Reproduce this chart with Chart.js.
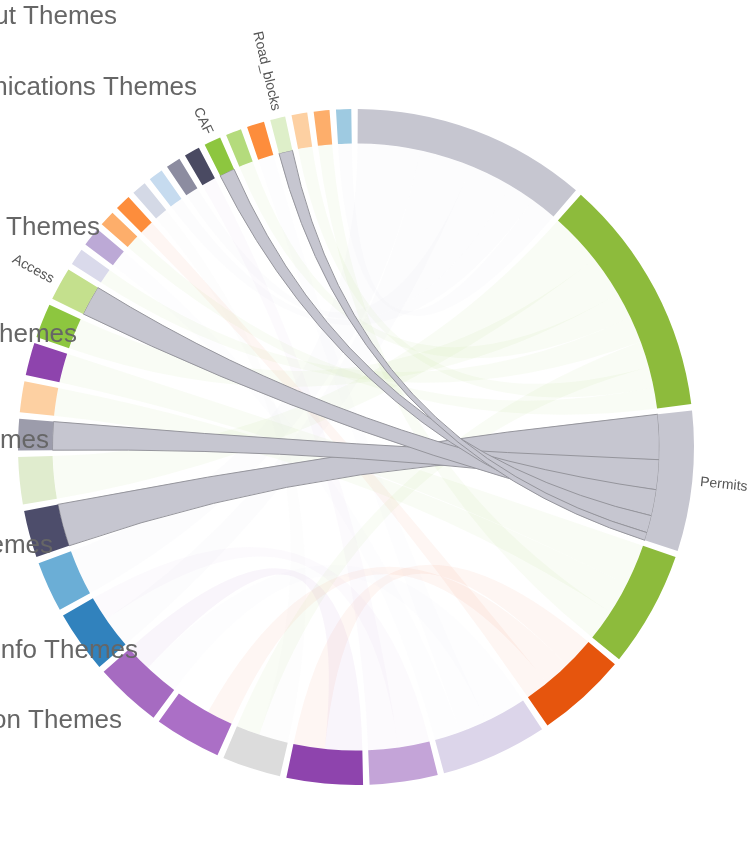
<!DOCTYPE html>
<html>
<head>
<meta charset="utf-8">
<script src="https://cdn.jsdelivr.net/npm/chart.js@4.4.0/dist/chart.umd.min.js"></script>
<style>
  html, body { margin: 0; padding: 0; background: #fff; }
  #wrap { width: 751px; height: 846px; position: relative; overflow: hidden; }
</style>
</head>
<body>
<div id="wrap"><canvas id="chordChart"></canvas></div>
<script>
// groups, clockwise from the big grey arc at 12 o'clock
const groupLabels = ['', '', 'Permits', '', '', '', '', '', '', '', '', '', '', '', '', '', '', '',
  '', 'Access', '', '', '', '', '', '', '', '', 'CAF', '', '', 'Road_blocks', '', '', ''];
const groupValues = [40.3, 41.0, 24.1, 19.9, 15.5, 18.3, 11.7, 13.1, 10.1, 11.5, 11.5, 10.7, 8.7, 8.1,
  8.1, 5.4, 5.3, 5.6, 5.9, 5.7, 2.9, 3.3, 2.7, 2.7, 2.5, 2.5, 2.5, 2.7, 2.9, 2.7, 3.0, 2.6, 2.7, 2.7, 2.6];
const groupColors = ['#c6c6d0', '#8dbb3c', '#c6c6d0', '#8dbb3c', '#e6550d', '#dcd5ea', '#c4a4d8', '#8e44ad',
  '#dcdcdc', '#ab6fc6', '#a66bc1', '#3182bd', '#6baed6', '#4d4d6b', '#e0ecce', '#9c9cab', '#fdd0a2',
  '#8e44ad', '#8dc63f', '#c4e08d', '#dadaeb', '#bca9d6', '#fdae6b', '#fd8d3c', '#d4d9e6', '#c6dbef',
  '#8c8ca0', '#4a4a62', '#8dc63f', '#b4db7c', '#fd8d3c', '#deefc9', '#fdd0a2', '#fdae6b', '#9ecae1'];

// chords: group index at each end and the share of that group's arc it takes
const linkFrom      = [2, 2, 2, 2, 2,   1, 1, 1, 1, 1, 1, 1,   0, 0, 0, 0, 0,   4, 4, 4,   3, 3, 3,   5, 5, 5,   6, 6,   7,   8,   34];
const linkTo        = [13, 15, 19, 28, 31,   18, 29, 14, 32, 22, 20, 8,   12, 25, 34, 11, 26,   7, 9, 23,   17, 16, 33,   10, 21, 30,   11, 27,   10,   24,   12];
const linkFromValue = [8.6, 5.7, 5.0, 3.3, 1.5,   8, 5, 10, 4, 4, 5, 5,   12, 5, 5, 10, 8.3,   6, 5, 4.5,   8, 6, 5.9,   8, 5, 5.3,   6, 5.7,   7.1,   5.6,   2.6];
const linkToValue   = [8.1, 5.4, 5.7, 2.9, 2.6,   5.9, 2.7, 8.1, 2.7, 2.7, 2.9, 4.5,   8.7, 2.5, 2.6, 6, 2.5,   6, 5, 2.7,   5.6, 5.3, 2.7,   6.5, 3.3, 3.0,   4.7, 2.7,   5,   2.5,   4];
const focusGroup = 2;

// category labels on the left, partly outside the picture
const sideLabels = ['Input Themes', 'Communications Themes', 'Process Themes', 'Scheme Themes',
  'Time Themes', 'Scheme Themes', 'Project Info Themes', 'Location Themes'];
const sideLabelAt = [[117, 24], [197, 95], [100, 235], [77, 342], [49, 448], [53, 553], [138, 658], [122, 728]];

const PAD = 1.1;
const ringData = [];
const ringColors = [];
groupValues.forEach((v, i) => {
  ringData.push(v, PAD);
  ringColors.push(groupColors[i], 'rgba(0,0,0,0)');
});

function darker(hex, k) {
  const n = parseInt(hex.slice(1), 16);
  const f = c => Math.round(c * k);
  return 'rgb(' + f(n >> 16) + ',' + f((n >> 8) & 255) + ',' + f(n & 255) + ')';
}

function linkAngles(meta) {
  const perGroup = groupValues.map(() => []);
  linkFrom.forEach((g, k) => {
    perGroup[g].push({k: k, side: 0, v: linkFromValue[k]});
    perGroup[linkTo[k]].push({k: k, side: 1, v: linkToValue[k]});
  });
  const res = linkFrom.map(() => [0, 0, 0, 0]);
  perGroup.forEach((list, g) => {
    list.sort((a, b) => b.v - a.v);
    const arc = meta.data[g * 2];
    const span = arc.endAngle - arc.startAngle;
    let a = arc.startAngle;
    list.forEach(e => {
      const d = Math.min(span * e.v / groupValues[g], arc.endAngle - a);
      res[e.k][e.side * 2] = a;
      res[e.k][e.side * 2 + 1] = a + d;
      a += d;
    });
  });
  return res;
}

function ribbon(ctx, cx, cy, r, s0, s1, t0, t1) {
  ctx.beginPath();
  ctx.moveTo(cx + r * Math.cos(s0), cy + r * Math.sin(s0));
  ctx.arc(cx, cy, r, s0, s1);
  ctx.quadraticCurveTo(cx, cy, cx + r * Math.cos(t0), cy + r * Math.sin(t0));
  ctx.arc(cx, cy, r, t0, t1);
  ctx.quadraticCurveTo(cx, cy, cx + r * Math.cos(s0), cy + r * Math.sin(s0));
  ctx.closePath();
}

const chordPlugin = {
  id: 'chords',
  beforeDatasetsDraw(chart) {
    const ctx = chart.ctx;
    const meta = chart.getDatasetMeta(0);
    const first = meta.data[0];
    const cx = first.x, cy = first.y, r = first.innerRadius;
    const ang = linkAngles(meta);
    const order = linkFrom.map((g, k) => k)
      .sort((a, b) => (linkFrom[a] === focusGroup) - (linkFrom[b] === focusGroup));
    ctx.save();
    order.forEach(k => {
      const on = linkFrom[k] === focusGroup || linkTo[k] === focusGroup;
      const col = on ? groupColors[focusGroup] : groupColors[linkFrom[k]];
      const a = ang[k];
      ribbon(ctx, cx, cy, r, a[0], a[1], a[2], a[3]);
      ctx.globalAlpha = on ? 1 : 0.05;
      ctx.fillStyle = col;
      ctx.fill();
      if (on) {
        ctx.lineWidth = 1;
        ctx.strokeStyle = darker(col, 0.75);
        ctx.stroke();
      }
    });
    ctx.restore();
  },
  afterDraw(chart) {
    const ctx = chart.ctx;
    const meta = chart.getDatasetMeta(0);
    ctx.save();
    ctx.font = '14px "Liberation Sans", Arial, sans-serif';
    ctx.fillStyle = '#555';
    ctx.textBaseline = 'middle';
    groupLabels.forEach((label, g) => {
      if (!label) return;
      const arc = meta.data[g * 2];
      const mid = (arc.startAngle + arc.endAngle) / 2;
      const r = arc.outerRadius + 8;
      ctx.save();
      ctx.translate(arc.x, arc.y);
      if (Math.cos(mid) >= 0) {
        ctx.rotate(mid);
        ctx.textAlign = 'left';
        ctx.fillText(label, r, 0);
      } else {
        ctx.rotate(mid + Math.PI);
        ctx.textAlign = 'right';
        ctx.fillText(label, -r, 0);
      }
      ctx.restore();
    });
    ctx.font = '26px "Liberation Sans", Arial, sans-serif';
    ctx.fillStyle = '#666';
    ctx.textAlign = 'right';
    ctx.textBaseline = 'alphabetic';
    sideLabels.forEach((t, i) => ctx.fillText(t, sideLabelAt[i][0], sideLabelAt[i][1]));
    ctx.restore();
  }
};

new Chart(document.getElementById('chordChart'), {
  type: 'doughnut',
  data: {
    labels: ringData.map((v, i) => i % 2 ? '' : groupLabels[i / 2]),
    datasets: [{
      data: ringData,
      backgroundColor: ringColors,
      borderWidth: 0
    }]
  },
  options: {
    responsive: true,
    maintainAspectRatio: false,
    animation: false,
    rotation: 0.3,
    cutout: '89.8%',
    layout: { padding: { left: 18, right: 57, top: 109, bottom: 61 } },
    plugins: {
      legend: { display: false },
      tooltip: { enabled: false }
    }
  },
  plugins: [chordPlugin]
});
</script>
</body>
</html>
